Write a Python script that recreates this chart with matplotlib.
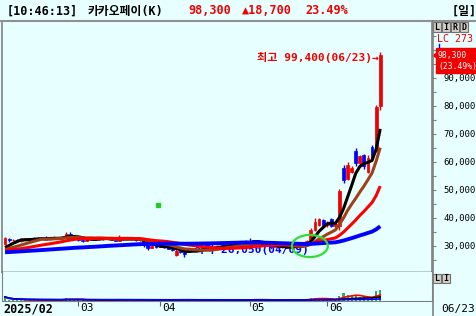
import numpy as np
import pandas as pd
import matplotlib
matplotlib.use('Agg')
import matplotlib.pyplot as plt
from matplotlib.patches import Rectangle, Ellipse
from matplotlib.lines import Line2D
from matplotlib.transforms import blended_transform_factory, offset_copy

# trading days in the window (KRX holidays removed)
holidays = ['2025-03-03', '2025-05-01', '2025-05-05', '2025-05-06', '2025-06-03', '2025-06-06']
days = pd.bdate_range('2025-02-05', '2025-06-23')
days = days[~days.isin(pd.to_datetime(holidays))]

# closes before the window, only used to start the moving averages (thousand won)
pre_close = [27.0, 27.3, 26.8, 26.5, 26.9, 27.4, 27.7, 27.5, 27.1, 26.8,
             26.4, 26.7, 27.2, 27.6, 27.9, 27.7, 27.4, 27.0, 27.3, 27.6,
             28.0, 27.8, 27.5, 27.2, 26.9, 27.1, 27.4, 27.8, 28.1, 27.9,
             27.6, 27.4, 27.7, 28.1, 28.4, 28.2, 27.9, 27.6, 27.8, 28.2,
             28.5, 28.8, 28.6, 28.3, 28.0, 27.7, 27.5, 27.3, 27.6, 27.9,
             28.2, 28.0, 27.7, 27.9, 28.3, 28.1, 28.4, 28.7, 29.1]

# daily candles (thousand won)
open_k = [30.8, 32.6, 32.0, 32.3, 31.8, 32.2, 32.7, 32.3, 32.9, 32.5,
          32.8, 32.4, 32.8, 33.1, 32.7, 33.2, 34.4, 33.6, 33.0, 32.1,
          31.8, 32.4, 32.8, 32.4, 32.9, 32.5, 32.8, 32.2, 31.9, 32.8,
          32.5, 32.9, 32.4, 32.0, 32.3, 30.6, 29.4, 30.0, 29.6, 30.1,
          29.6, 29.1, 26.9, 28.3, 27.9, 28.0, 28.6, 28.8, 28.4, 29.0,
          29.4, 29.1, 29.7, 30.1, 29.8, 30.3, 30.6, 30.4, 30.9, 31.3,
          31.9, 31.5, 32.0, 31.2, 30.6, 30.1, 29.7, 30.0, 29.5, 29.8,
          29.4, 29.8, 30.2, 29.9, 30.7, 32.0, 35.8, 37.5, 39.3, 37.4,
          39.5, 37.0, 37.0, 58.0, 54.0, 56.5, 64.0, 59.5, 62.5, 56.5,
          65.5, 64.0, 80.0]
high_k = [33.3, 32.9, 32.6, 32.5, 32.4, 33.0, 32.9, 33.2, 33.1, 33.0,
          33.6, 33.0, 33.4, 33.3, 33.5, 35.0, 34.9, 33.8, 33.2, 32.4,
          32.6, 33.0, 32.9, 33.1, 33.0, 33.0, 32.9, 32.4, 34.0, 33.0,
          33.1, 33.0, 32.6, 32.5, 32.4, 31.0, 30.3, 30.2, 30.4, 30.2,
          29.8, 29.3, 28.9, 28.5, 28.3, 28.9, 29.0, 29.0, 29.2, 29.6,
          29.5, 29.9, 30.3, 30.3, 30.5, 30.9, 30.8, 31.2, 31.6, 32.0,
          32.9, 32.3, 32.1, 31.3, 30.8, 30.3, 30.2, 30.1, 30.0, 29.9,
          30.0, 30.4, 30.3, 31.0, 32.2, 36.5, 40.0, 40.0, 39.6, 38.8,
          40.0, 38.5, 50.5, 59.0, 60.0, 58.5, 65.0, 62.5, 63.0, 62.5,
          66.0, 80.5, 99.4]
low_k = [30.5, 31.6, 31.7, 31.5, 31.6, 32.0, 32.1, 32.2, 32.3, 32.4,
         32.2, 32.2, 32.6, 32.5, 32.6, 33.0, 33.4, 32.9, 31.9, 31.5,
         31.7, 32.2, 32.2, 32.3, 32.3, 32.4, 32.0, 31.7, 31.8, 32.3,
         32.4, 32.2, 31.8, 31.9, 29.8, 28.6, 29.2, 29.3, 29.5, 29.4,
         28.9, 28.2, 26.5, 27.5, 26.05, 27.8, 28.3, 28.2, 28.3, 28.8,
         28.9, 29.0, 29.5, 29.6, 29.7, 30.1, 30.2, 30.3, 30.7, 31.1,
         31.2, 31.3, 31.0, 30.4, 29.9, 29.5, 29.5, 29.3, 29.4, 29.2,
         29.3, 29.7, 29.7, 29.8, 30.5, 31.8, 35.5, 37.2, 37.0, 36.9,
         36.8, 36.8, 35.8, 52.5, 53.5, 56.0, 58.5, 59.0, 57.5, 56.0,
         61.0, 63.5, 78.5]
close_k = [32.8, 32.0, 32.3, 31.8, 32.2, 32.7, 32.3, 32.9, 32.5, 32.8,
           32.4, 32.8, 33.1, 32.7, 33.2, 34.3, 33.6, 33.1, 32.1, 31.8,
           32.4, 32.8, 32.4, 32.9, 32.5, 32.8, 32.2, 31.9, 32.8, 32.5,
           32.9, 32.4, 32.0, 32.3, 30.6, 29.4, 30.0, 29.6, 30.1, 29.6,
           29.1, 28.4, 28.3, 27.9, 27.1, 28.6, 28.8, 28.4, 29.0, 29.4,
           29.1, 29.7, 30.1, 29.8, 30.3, 30.6, 30.4, 30.9, 31.3, 31.7,
           31.5, 32.0, 31.2, 30.6, 30.1, 29.7, 30.0, 29.5, 29.8, 29.4,
           29.8, 30.2, 29.9, 30.7, 31.8, 35.6, 38.6, 39.5, 37.6, 38.3,
           37.2, 37.9, 49.8, 53.5, 59.0, 58.0, 59.5, 62.0, 58.5, 61.5,
           61.3, 79.6, 98.3]
# volume (relative units)
volume = [4.0, 1.5, 1.2, 1.2, 1.0, 1.2, 1.0, 1.2, 1.0, 1.0,
          1.3, 1.0, 1.2, 1.0, 1.2, 3.0, 1.8, 1.3, 1.2, 1.0,
          1.0, 1.1, 1.0, 1.0, 0.9, 1.0, 1.0, 1.0, 1.6, 1.1,
          1.0, 0.9, 1.0, 0.9, 1.4, 1.3, 1.0, 0.9, 1.0, 0.9,
          1.0, 1.2, 1.6, 1.1, 1.3, 1.1, 0.9, 0.8, 0.9, 0.9,
          0.8, 0.9, 0.9, 0.8, 0.9, 0.9, 0.8, 0.9, 1.0, 1.1,
          1.4, 2.0, 1.2, 1.0, 0.9, 0.9, 0.8, 0.8, 0.8, 0.8,
          0.9, 1.0, 0.9, 1.3, 2.0, 3.2, 3.0, 2.2, 1.8, 1.6,
          1.8, 1.5, 4.7, 8.0, 6.4, 5.0, 4.7, 4.0, 3.6, 3.3,
          3.0, 9.7, 10.7]

ma_periods = [5, 10, 20, 60]
ma_colors = ['black', '#A0401A', '#FF0000', '#0000FF']
ma_widths = [2.2, 2.2, 2.2, 2.8]
vol_ma_periods = [5, 20, 60]
vol_ma_colors = ['#FF0000', 'black', '#0000FF']
signal_x = [37.5]
signal_y = [44600]

W, H = 476, 316
BG = '#E8FFFF'
RED = '#F00000'
BLUE = '#0000FF'
plt.rcParams['font.family'] = ['DejaVu Sans Mono', 'Noto Sans CJK KR']

o = np.array(open_k) * 1000
hi = np.array(high_k) * 1000
lo = np.array(low_k) * 1000
c = np.array(close_k) * 1000
x = np.arange(len(c))
full = pd.Series(np.r_[pre_close, close_k] * 1000)

def fx(px):
    return px / W

def fy(py):
    return 1 - py / H

fig = plt.figure(figsize=(W / 100, H / 100), dpi=100, facecolor=BG)
ax = fig.add_axes([fx(2), fy(272), fx(430), 251 / H], facecolor=BG)
axv = fig.add_axes([fx(2), fy(301), fx(430), 29 / H], facecolor=BG)

# candles
up = c >= o
cols = np.where(up, RED, BLUE)
ax.vlines(x, lo, hi, colors=cols, lw=1, zorder=2)
ax.bar(x, np.maximum(np.abs(c - o), 150), bottom=np.minimum(o, c), width=0.7,
       color=cols, edgecolor=cols, lw=0.5, zorder=2)

# moving averages
for n, col, lw in zip(ma_periods, ma_colors, ma_widths):
    ma = full.rolling(n).mean().to_numpy()[len(pre_close):]
    ax.plot(x, ma, color=col, lw=lw, zorder=3 + n / 100, solid_capstyle='butt')

# high / low labels
ih, il = int(np.argmax(hi)), int(np.argmin(lo))
ax.text(ih - 0.4, hi[ih], f"최고 {int(round(hi[ih])):,}({days[ih]:%m/%d})→",
        ha='right', va='center', color=RED, fontsize=8, fontweight='bold',
        transform=offset_copy(ax.transData, fig=fig, x=0, y=-6, units='dots'), zorder=4)
ax.text(il + 0.5, lo[il], f"←최저 {int(round(lo[il])):,}({days[il]:%m/%d})",
        ha='left', va='center', color=BLUE, fontsize=8, fontweight='bold',
        transform=offset_copy(ax.transData, fig=fig, x=0, y=8, units='dots'), zorder=1)

ax.add_patch(Ellipse((74.75, 30000), 8.8, 7900, fill=False, ec='#33DD33', lw=1.6, zorder=6))
ax.plot(signal_x, signal_y, 's', color='#22CC22', ms=2.5, zorder=4)

ax.set_xlim(-0.75, 104.7)
ax.set_ylim(20714, 110357)
ax.yaxis.tick_right()
ax.set_yticks(np.arange(30000, 100000, 10000))
ax.set_yticklabels([f"{v:,}" for v in range(30000, 100000, 10000)], fontsize=6.5)
ax.set_yticks(np.arange(25000, 110000, 5000), minor=True)
ax.tick_params(axis='y', which='both', direction='out', length=3, width=0.8,
               color='#808080', pad=5)
ax.tick_params(axis='x', which='both', bottom=False, labelbottom=False)
for s in ['left', 'right']:
    ax.spines[s].set_color('#808080')
    ax.spines[s].set_linewidth(1.2)
ax.spines['top'].set_visible(False)
ax.spines['bottom'].set_color('black')
ax.spines['bottom'].set_linewidth(1)

# last price tag
bl = blended_transform_factory(ax.transAxes, ax.transData)
ax.plot([1.006], [c[-1]], marker='<', ms=4.5, color=RED, transform=bl, clip_on=False)
ax.text(1.0116, c[-1], f"{int(c[-1]):,}\n(23.49%)", color='white', fontsize=5.8,
        ha='left', va='center', linespacing=1.3, clip_on=False,
        transform=offset_copy(bl, fig=fig, x=1, y=-6, units='dots'),
        bbox=dict(boxstyle='square,pad=0.3', fc=RED, ec=RED))

# volume
axv.bar(x, volume, width=0.5, color='#33AA66', zorder=2)
vs = pd.Series(volume)
for n, col in zip(vol_ma_periods, vol_ma_colors):
    axv.plot(x, vs.rolling(n, min_periods=1).mean(), color=col, lw=1.2, zorder=3)
axv.set_xlim(-0.75, 104.7)
axv.set_ylim(0, 29)
axv.set_yticks([])
month_pos = [i for i in range(1, len(days)) if days[i].month != days[i - 1].month]
axv.set_xticks(month_pos)
axv.set_xticklabels([])
axv.tick_params(axis='x', direction='out', length=3.6, width=0.8, color='#606060')
for s in ['left', 'right', 'bottom']:
    axv.spines[s].set_color('#808080')
axv.spines['top'].set_visible(False)
blv = offset_copy(blended_transform_factory(axv.transData, axv.transAxes), fig=fig,
                  x=2, y=-2, units='dots')
for p in month_pos:
    axv.text(p, 0, f"{days[p]:%m}", ha='left', va='top', fontsize=8, transform=blv)

# header
fig.add_artist(Line2D([0, 1], [fy(20.5), fy(20.5)], color='#909090', lw=1.5))
fig.add_artist(Line2D([fx(432.5), fx(432.5)], [0, fy(21)], color='#808080', lw=1.2))
hdr = [(7, '[10:46:13]', 'black'), (88, '카카오페이(K)', 'black'),
       (188, f"{int(c[-1]):,}", RED), (242, '▲18,700', RED),
       (305, '23.49%', RED), (452, '[일]', 'black')]
for px, s, col in hdr:
    fig.text(fx(px), fy(11), s, color=col, fontsize=8.5, fontweight='bold',
             ha='left', va='center')

# small button boxes
for k, ch in enumerate('LIRD'):
    x0 = 433 + k * 9
    fig.add_artist(Rectangle((fx(x0), fy(32)), fx(8), 10 / H, transform=fig.transFigure,
                             fc='#D4D0C8', ec='#707070', lw=0.8))
    fig.text(fx(x0 + 4), fy(27), ch, fontsize=6, fontweight='bold', ha='center', va='center')
for k, ch in enumerate('LI'):
    x0 = 433 + k * 9
    fig.add_artist(Rectangle((fx(x0), fy(283)), fx(8), 9 / H, transform=fig.transFigure,
                             fc='#D4D0C8', ec='#707070', lw=0.8))
    fig.text(fx(x0 + 4), fy(278.5), ch, fontsize=6, fontweight='bold', ha='center', va='center')
fig.text(fx(437), fy(38.5), 'LC 273', color=RED, fontsize=7.2, ha='left', va='center')
fig.add_artist(Line2D([fx(439), fx(439)], [fy(44), fy(47)], color=BLUE, lw=1))

fig.text(fx(3), fy(309), f"{days[0]:%Y/%m}", fontsize=8.5, fontweight='bold', ha='left', va='center')
fig.text(fx(441), fy(309), f"{days[-1]:%m/%d}", fontsize=8, ha='left', va='center')

fig.savefig('out.png', dpi=100, facecolor=BG)
